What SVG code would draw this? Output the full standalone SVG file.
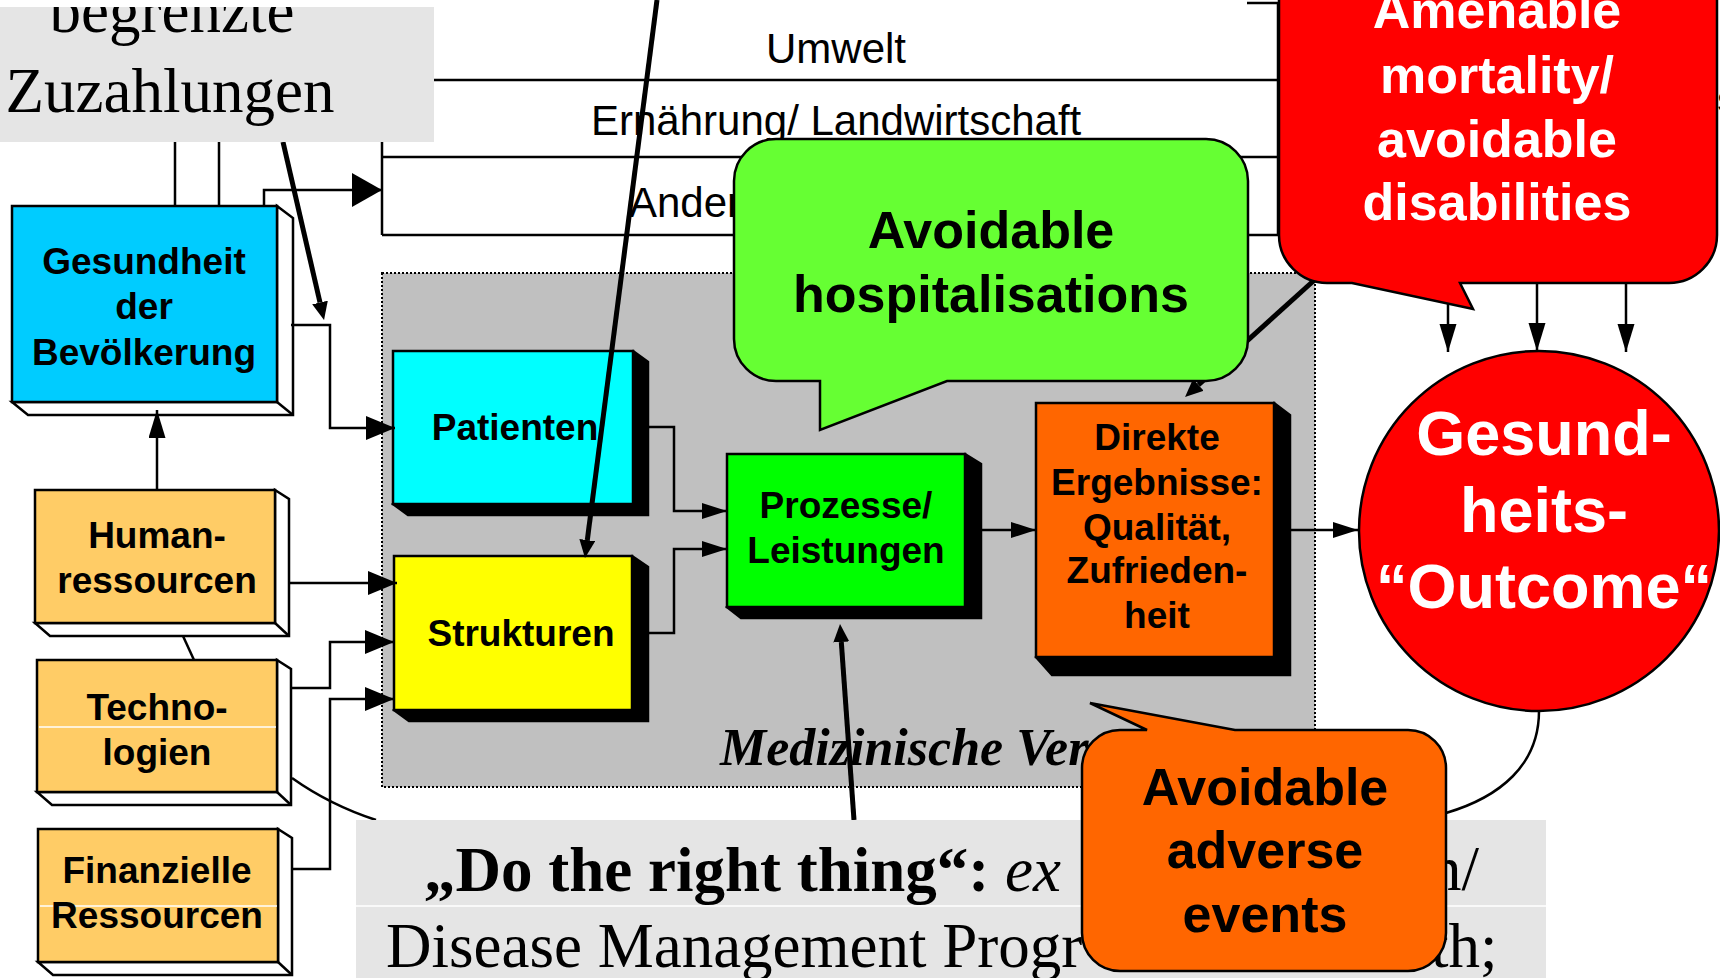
<svg xmlns="http://www.w3.org/2000/svg" width="1720" height="978" viewBox="0 0 1720 978">
  <defs>
    <style>
      .ln{fill:none;stroke:#000;stroke-width:2.5}
      .thick{fill:none;stroke:#000;stroke-width:5}
      .face{stroke:#000;stroke-width:2.5}
      .sw{fill:#fff;stroke:#000;stroke-width:2.5;stroke-linejoin:miter}
      .sb{fill:#000;stroke:#000;stroke-width:2.5}
      .seam{stroke:#fff;stroke-width:1.5}
      .lbl{font-family:"Liberation Sans",Arial,sans-serif;font-weight:bold;font-size:37px;text-anchor:middle;fill:#000}
      .env{font-family:"Liberation Sans",Arial,sans-serif;font-size:42px;fill:#000}
      .big{font-family:"Liberation Sans",Arial,sans-serif;font-weight:bold;font-size:52px;text-anchor:middle}
      .ser{font-family:"Liberation Serif","Times New Roman",serif;font-size:63px;fill:#000}
      .co{stroke:#000;stroke-width:2.5;stroke-linejoin:miter}
    </style>
    <marker id="aBig" markerUnits="userSpaceOnUse" markerWidth="31" markerHeight="35" refX="30" refY="17" orient="auto"><path d="M0,0 L30,17 L0,34 Z"/></marker>
    <marker id="aL" markerUnits="userSpaceOnUse" markerWidth="30" markerHeight="25" refX="29" refY="12" orient="auto"><path d="M0,0 L29,12 L0,24 Z"/></marker>
    <marker id="aM" markerUnits="userSpaceOnUse" markerWidth="26" markerHeight="17" refX="25" refY="8" orient="auto"><path d="M0,0 L25,8 L0,16 Z"/></marker>
    <marker id="aD" markerUnits="userSpaceOnUse" markerWidth="29" markerHeight="18" refX="28" refY="8.5" orient="auto"><path d="M0,0 L28,8.5 L0,17 Z"/></marker>
    <marker id="aT" markerUnits="userSpaceOnUse" markerWidth="19" markerHeight="17" refX="0" refY="8" orient="auto"><path d="M0,0 L18,8 L0,16 Z"/></marker>
    <clipPath id="clipTL"><rect x="0" y="7" width="434" height="135"/></clipPath>
  </defs>

  <rect width="1720" height="978" fill="#fff"/>

  <!-- surrounding sectors -->
  <g id="sectors">
    <path class="ln" d="M382,80 V235 M382,80 H1278 M382,157 H1278 M382,235 H1278 M1278,3 V235 M1247,3 H1278"/>
    <text class="env" x="766" y="63">Umwelt</text>
    <text class="env" x="591" y="135">Ernährung/ Landwirtschaft</text>
    <text class="env" x="629" y="217">Ander</text>
  </g>

  <!-- health care system area -->
  <g id="versorgung">
    <rect x="382" y="273" width="933" height="514" fill="#c0c0c0" stroke="#000" stroke-width="2" stroke-dasharray="2 2"/>
    <text x="720" y="765" font-family="'Liberation Serif','Times New Roman',serif" font-size="52" font-weight="bold" font-style="italic">Medizinische Ver</text>
  </g>

  <!-- boxes -->
  <g id="gesundheit">
    <polygon class="sw" points="277,206 293,218 293,415 28,415 12,402 277,402"/>
    <rect class="face" x="12" y="206" width="265" height="196" fill="#00ccff"/>
    <line class="ln" x1="277" y1="402" x2="293" y2="415"/>
    <text class="lbl" x="144" y="274">Gesundheit</text>
    <text class="lbl" x="144" y="319">der</text>
    <text class="lbl" x="144" y="365">Bevölkerung</text>
  </g>

  <g id="human">
    <polygon class="sw" points="275,490 289,499 289,636 50,636 35,623 275,623"/>
    <rect class="face" x="35" y="490" width="240" height="133" fill="#ffcc66"/>
    <line class="ln" x1="275" y1="623" x2="289" y2="636"/>
    <text class="lbl" x="157" y="548">Human-</text>
    <text class="lbl" x="157" y="593">ressourcen</text>
  </g>

  <g id="techno">
    <polygon class="sw" points="277,660 291,669 291,805 52,805 37,792 277,792"/>
    <rect class="face" x="37" y="660" width="240" height="132" fill="#ffcc66"/>
    <line class="ln" x1="277" y1="792" x2="291" y2="805"/>
    <line class="seam" x1="39" y1="727" x2="276" y2="727"/>
    <text class="lbl" x="157" y="720">Techno-</text>
    <text class="lbl" x="157" y="765">logien</text>
  </g>

  <g id="finanz">
    <polygon class="sw" points="278,829 292,838 292,975 53,975 38,962 278,962"/>
    <rect class="face" x="38" y="829" width="240" height="133" fill="#ffcc66"/>
    <line class="ln" x1="278" y1="962" x2="292" y2="975"/>
    <line class="seam" x1="40" y1="906" x2="277" y2="906"/>
    <text class="lbl" x="157" y="883">Finanzielle</text>
    <text class="lbl" x="157" y="928">Ressourcen</text>
  </g>

  <g id="patienten">
    <polygon class="sb" points="633,351 648,362 648,515 408,515 393,504"/>
    <rect class="face" x="393" y="351" width="240" height="153" fill="#00ffff"/>
    <text class="lbl" x="515" y="440">Patienten</text>
  </g>

  <g id="strukturen">
    <polygon class="sb" points="632,556 648,567 648,721 409,721 394,710"/>
    <rect class="face" x="394" y="556" width="238" height="154" fill="#ffff00"/>
    <text class="lbl" x="521" y="646">Strukturen</text>
  </g>

  <g id="prozesse">
    <polygon class="sb" points="965,454 981,464 981,618 741,618 727,607"/>
    <rect class="face" x="727" y="454" width="238" height="153" fill="#00ff00"/>
    <text class="lbl" x="846" y="518">Prozesse/</text>
    <text class="lbl" x="846" y="563">Leistungen</text>
  </g>

  <g id="direkte">
    <polygon class="sb" points="1274,403 1290,415 1290,675 1052,675 1036,657"/>
    <rect class="face" x="1036" y="403" width="238" height="254" fill="#ff6600"/>
    <text class="lbl" x="1157" y="450">Direkte</text>
    <text class="lbl" x="1157" y="495">Ergebnisse:</text>
    <text class="lbl" x="1157" y="540">Qualität,</text>
    <text class="lbl" x="1157" y="583">Zufrieden-</text>
    <text class="lbl" x="1157" y="628">heit</text>
  </g>

  <!-- connectors -->
  <g id="connectors">
    <path class="ln" d="M175,142 V206 M219,142 V206"/>
    <path class="ln" d="M264,206 V190 H382" marker-end="url(#aBig)"/>
    <path class="ln" d="M157,490 L157,410" marker-end="url(#aD)"/>
    <path class="ln" d="M183,636 L194,660"/>
    <path class="ln" d="M291,325 H330 V428 H395" marker-end="url(#aL)"/>
    <path class="ln" d="M290,583 H397" marker-end="url(#aL)"/>
    <path class="ln" d="M292,688 H330 V642 H394" marker-end="url(#aL)"/>
    <path class="ln" d="M292,869 H330 V699 H394" marker-end="url(#aL)"/>
    <path class="ln" d="M648,427 H674 V511 H727" marker-end="url(#aM)"/>
    <path class="ln" d="M648,633 H674 V549 H727" marker-end="url(#aM)"/>
    <path class="ln" d="M981,530 H1036" marker-end="url(#aM)"/>
    <path class="ln" d="M1290,530 H1358" marker-end="url(#aM)"/>
    <path class="ln" d="M1448,304 V352" marker-end="url(#aD)"/>
    <path class="ln" d="M1537,283 V351" marker-end="url(#aD)"/>
    <path class="ln" d="M1626,283 V352" marker-end="url(#aD)"/>
    <path class="ln" d="M1539,711 C1539,765 1500,797 1446,813"/>
    <path class="ln" d="M292,778 Q330,805 376,820"/>
    <path class="thick" d="M283,142 L320,302.5" marker-end="url(#aT)"/>
    <path class="thick" stroke-width="4.5" d="M657,0 L587.3,540.1" marker-end="url(#aT)"/>
    <path class="thick" stroke-width="4.5" d="M1320,275 L1198.4,384.9" marker-end="url(#aT)"/>
    <path class="thick" stroke-width="3" d="M854,820 L841.3,642" marker-end="url(#aT)"/>
  </g>

  <!-- text panels -->
  <g id="zuzahlungen">
    <rect x="0" y="7" width="434" height="135" fill="#e5e5e5"/>
    <text class="ser" x="172" y="32" text-anchor="middle" clip-path="url(#clipTL)">begrenzte</text>
    <text class="ser" x="170" y="112" text-anchor="middle">Zuzahlungen</text>
  </g>

  <g id="right-thing">
    <rect x="356" y="820" width="1190" height="158" fill="#e5e5e5"/>
    <line class="seam" x1="356" y1="906" x2="1546" y2="906"/>
    <text class="ser" x="424" y="891"><tspan font-weight="bold">„Do the right thing“:</tspan><tspan font-style="italic"> ex</tspan></text>
    <text class="ser" x="1430" y="890">n/</text>
    <text class="ser" x="386" y="967">Disease Management Progr</text>
    <text class="ser" x="1431" y="967">th;</text>
  </g>

  <!-- callouts -->
  <g id="hospitalisations">
    <path class="co" fill="#66ff33" d="M776,139 H1206 A42,42 0 0 1 1248,181 V339 A42,42 0 0 1 1206,381 H947 L820,430 L820,381 H776 A42,42 0 0 1 734,339 V181 A42,42 0 0 1 776,139 Z"/>
    <text class="big" x="991" y="248" fill="#000">Avoidable</text>
    <text class="big" x="991" y="312" fill="#000">hospitalisations</text>
  </g>

  <g id="mortality">
    <path class="co" fill="#ff0000" d="M1279,-80 H1717 V235 A48,48 0 0 1 1669,283 H1460 L1473,309 L1352,283 H1327 A48,48 0 0 1 1279,235 Z"/>
    <text class="big" x="1497" y="28" fill="#fff">Amenable</text>
    <text class="big" x="1497" y="93" fill="#fff">mortality/</text>
    <text class="big" x="1497" y="157" fill="#fff">avoidable</text>
    <text class="big" x="1497" y="220" fill="#fff">disabilities</text>
  </g>
  <text x="1717" y="112" font-family="'Liberation Sans',Arial,sans-serif" font-weight="bold" font-size="36">s</text>

  <g id="outcome">
    <circle cx="1539" cy="531" r="180" fill="#ff0000" stroke="#000" stroke-width="2.5"/>
    <text x="1544" y="455" font-family="'Liberation Sans',Arial,sans-serif" font-weight="bold" font-size="63" text-anchor="middle" fill="#fff">Gesund-</text>
    <text x="1544" y="532" font-family="'Liberation Sans',Arial,sans-serif" font-weight="bold" font-size="63" text-anchor="middle" fill="#fff">heits-</text>
    <text x="1544" y="608" font-family="'Liberation Sans',Arial,sans-serif" font-weight="bold" font-size="63" text-anchor="middle" fill="#fff">“Outcome“</text>
  </g>

  <g id="adverse-events">
    <path class="co" fill="#ff6600" d="M1120,730 H1147 L1090,703 L1235,730 H1408 A38,38 0 0 1 1446,768 V933 A38,38 0 0 1 1408,971 H1120 A38,38 0 0 1 1082,933 V768 A38,38 0 0 1 1120,730 Z"/>
    <text class="big" x="1265" y="805" fill="#000">Avoidable</text>
    <text class="big" x="1265" y="868" fill="#000">adverse</text>
    <text class="big" x="1265" y="932" fill="#000">events</text>
  </g>
</svg>
